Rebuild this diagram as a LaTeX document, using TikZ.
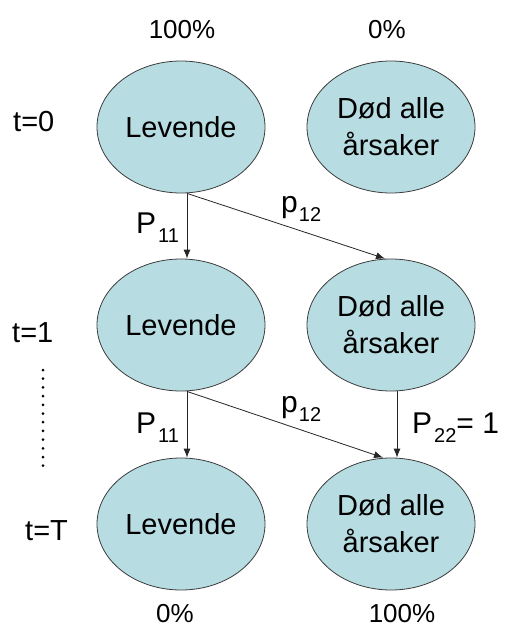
\documentclass[tikz,border=0pt]{standalone}
\usepackage{fontspec}
\setmainfont{Liberation Sans}
\usetikzlibrary{shapes.geometric,arrows.meta}
\definecolor{stfill}{RGB}{183,221,227}
\definecolor{stline}{RGB}{60,60,60}
\newcommand{\subtxt}[1]{\raisebox{-9.5pt}{\fontsize{20}{20}\selectfont #1}}
\tikzset{
  state/.style={ellipse, draw=stline, line width=0.8pt, fill=stfill, minimum width=168pt, minimum height=132pt, inner sep=0pt, align=center, font=\fontsize{29}{37}\selectfont},
  pct/.style={inner sep=0pt, font=\fontsize{26}{26}\selectfont},
  tlab/.style={inner sep=0pt, anchor=base west, font=\fontsize{29}{29}\selectfont},
  plab/.style={inner sep=0pt, anchor=base west, font=\fontsize{30}{30}\selectfont},
  arr/.style={draw=black!85, line width=0.8pt, -{Latex[length=9pt,width=7pt]}}
}
\begin{document}
\begin{tikzpicture}[x=1pt,y=-1pt]
\useasboundingbox (0,0) rectangle (509,626);
% states
\node[state] (L0) at (181,127) {Levende};
\node[state] (D0) at (391,127) {Død alle\\årsaker};
\node[state] (L1) at (181,325) {Levende};
\node[state] (D1) at (391,325) {Død alle\\årsaker};
\node[state] (L2) at (181,524) {Levende};
\node[state] (D2) at (391,524) {Død alle\\årsaker};
% percentages
\node[pct, anchor=base] (pa) at (182,38) {100\%};
\node[pct, anchor=base] (pb) at (387,38) {0\%};
\node[pct, anchor=base] (pc) at (175,622) {0\%};
\node[pct, anchor=base] (pd) at (402,622) {100\%};
% time labels
\node[tlab] (t0) at (13,131) {t=0};
\node[tlab] (t1) at (12,342) {t=1};
\node[tlab] (tT) at (25,540) {t=T};
% dotted line
\foreach \k in {0,...,11}{\fill (43,{370+8.7*\k}) circle (1.5pt);}
% arrows
\draw[arr] ([xshift=6pt]L0.south) -- ([xshift=6pt]L1.north);
\draw[arr] ([xshift=6pt]L0.south) -- ([xshift=-6pt]D1.north);
\draw[arr] ([xshift=6pt]L1.south) -- ([xshift=6pt]L2.north);
\draw[arr] ([xshift=6pt]L1.south) -- ([xshift=-8pt]D2.north);
\draw[arr] ([xshift=6pt]D1.south) -- ([xshift=6pt]D2.north);
% transition labels
\node[plab] (p11a) at (136,233) {P\kern2pt\subtxt{11}};
\node[plab] (p12a) at (281,212) {p\kern1pt\subtxt{12}};
\node[plab] (p11b) at (136,433) {P\kern2pt\subtxt{11}};
\node[plab] (p12b) at (281,412) {p\kern1pt\subtxt{12}};
\node[plab] (p22) at (412,433) {P\kern2pt\subtxt{22}= 1};
\end{tikzpicture}
\end{document}
